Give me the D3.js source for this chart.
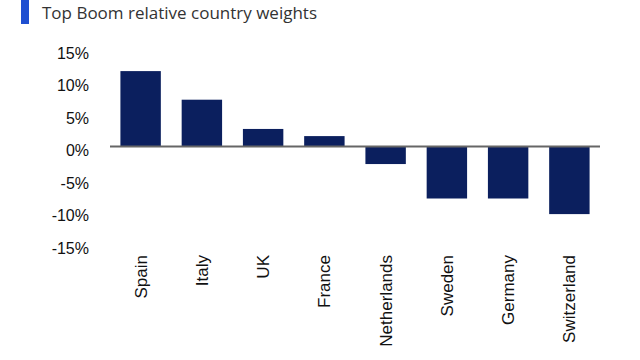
<!DOCTYPE html>
<html><head><meta charset="utf-8">
<script src="https://cdn.jsdelivr.net/npm/d3@7"></script>
<style>
html,body{margin:0;padding:0;background:#fff;}
svg{display:block;}
</style></head>
<body>
<script>
const title = "Top Boom relative country weights";
const countries = ["Spain","Italy","UK","France","Netherlands","Sweden","Germany","Switzerland"];
const weights = [11.6, 7.2, 2.7, 1.6, -2.7, -8.0, -8.0, -10.4];
const yTicks = [15, 10, 5, 0, -5, -10, -15];

const W = 640, H = 360;
const svg = d3.select("body").append("svg").attr("width", W).attr("height", H);

svg.append("rect").attr("x", 21).attr("y", 0).attr("width", 8).attr("height", 24).attr("fill", "#1f4fd1");
svg.append("text").attr("x", 42).attr("y", 19).attr("font-family", "Open Sans").attr("font-size", 17)
  .attr("fill", "#333").text(title);

const x = d3.scaleBand().domain(countries).range([110, 600]).paddingInner(0.34).paddingOuter(0.17);
const y = d3.scaleLinear().domain([-15, 15]).range([244, 49]);

svg.selectAll("rect.bar").data(countries).join("rect").attr("class", "bar")
  .attr("x", d => x(d))
  .attr("width", x.bandwidth())
  .attr("y", (d, i) => y(Math.max(0, weights[i])))
  .attr("height", (d, i) => Math.abs(y(weights[i]) - y(0)))
  .attr("fill", "#0b1f5e");

svg.append("line").attr("x1", 110).attr("x2", 600).attr("y1", y(0)).attr("y2", y(0))
  .attr("stroke", "#666").attr("stroke-width", 2);

svg.selectAll("text.ytick").data(yTicks).join("text").attr("class", "ytick")
  .attr("x", 89).attr("y", d => y(d) + 4).attr("dy", "0.35em")
  .attr("text-anchor", "end").attr("font-family", "Liberation Sans, Arial").attr("font-size", 16)
  .attr("fill", "#111").text(d => d + "%");

svg.selectAll("text.xlab").data(countries).join("text").attr("class", "xlab")
  .attr("transform", d => `translate(${x(d) + x.bandwidth() / 2},255) rotate(-90)`)
  .attr("dy", "0.35em").attr("text-anchor", "end")
  .attr("font-family", "Liberation Sans, Arial").attr("font-size", 17)
  .attr("fill", "#111").text(d => d);
</script>
</body></html>
